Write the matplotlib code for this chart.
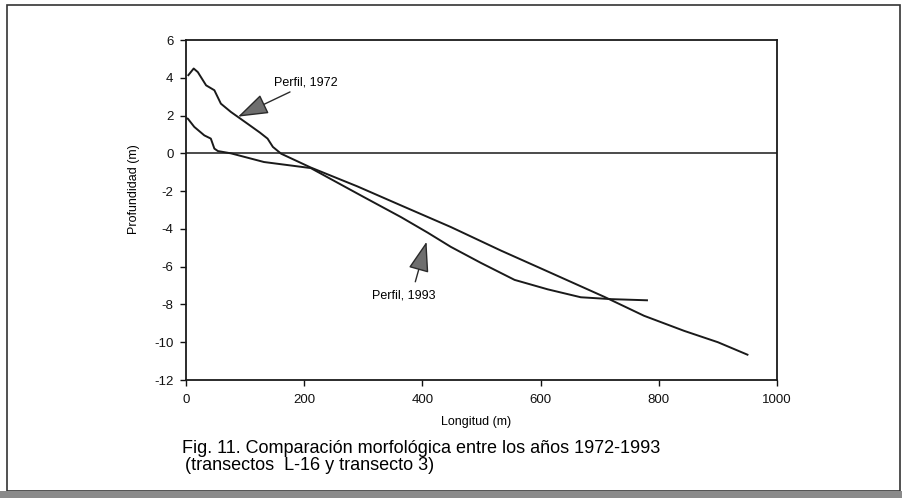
import matplotlib
matplotlib.use("Agg")
from matplotlib import pyplot as plt
from matplotlib.patches import Rectangle

plt.rcParams['font.family'] = ['Liberation Sans', 'DejaVu Sans']
plt.rcParams['axes.unicode_minus'] = False

# perfil 1972 (longitud m, profundidad m)
x_1972 = [4, 13, 20, 34, 48, 59, 76, 104, 125, 138, 147, 161, 211, 290, 364,
          448, 533, 601, 708, 775, 843, 900, 950]
y_1972 = [4.14, 4.49, 4.3, 3.6, 3.34, 2.63, 2.19, 1.57, 1.1, 0.78, 0.34, -0.02,
          -0.75, -1.75, -2.76, -3.9, -5.15, -6.1, -7.6, -8.6, -9.4, -10.0, -10.66]

# perfil 1993
x_1993 = [0, 3, 14, 31, 42, 48, 54, 76, 132, 211, 300, 364, 409, 448, 499,
          556, 612, 668, 720, 780]
y_1993 = [1.85, 1.84, 1.4, 0.95, 0.78, 0.25, 0.12, 0.0, -0.46, -0.78, -2.3,
          -3.38, -4.2, -4.95, -5.8, -6.7, -7.2, -7.62, -7.72, -7.78]

x_ticks = [0, 200, 400, 600, 800, 1000]
y_ticks = [6, 4, 2, 0, -2, -4, -6, -8, -10, -12]

W, H = 903, 498
fig = plt.figure(figsize=(W / 100, H / 100), dpi=100)
ax = fig.add_axes([186 / W, 1 - 380 / H, (777 - 186) / W, (380 - 40) / H])

line_c = '#1a1a1a'
ax.plot(x_1972, y_1972, color=line_c, lw=1.4)
ax.plot(x_1993, y_1993, color=line_c, lw=1.4)
ax.axhline(0, color=line_c, lw=1.1)

ax.set_xlim(0, 1000)
ax.set_ylim(-12, 6)
ax.set_xticks(x_ticks)
ax.set_yticks(y_ticks)
ax.tick_params(direction='out', length=4, width=1, labelsize=9.5, colors='#111')
ax.tick_params(axis='x', pad=6)
ax.tick_params(axis='y', pad=5)
for s in ax.spines.values():
    s.set_linewidth(1.3)
    s.set_color('#1a1a1a')

ax.set_xlabel('Longitud (m)', fontsize=9)
ax.set_ylabel('Profundidad (m)', fontsize=9)
ax.xaxis.set_label_coords(0.49, -0.105)
ax.yaxis.set_label_coords(-0.078, 0.56)

arrow = dict(arrowstyle='-|>,head_length=1.9,head_width=0.65', mutation_scale=10,
             fc='#6e6e6e', ec='#2a2a2a', lw=1.0, shrinkA=0, shrinkB=0)
ax.annotate('', xy=(88, 1.94), xytext=(176, 3.25), arrowprops=arrow)
ax.text(203, 3.77, 'Perfil, 1972', fontsize=9, ha='center', va='center')
ax.annotate('', xy=(407, -4.68), xytext=(388, -6.8), arrowprops=arrow)
ax.text(369, -7.5, 'Perfil, 1993', fontsize=9, ha='center', va='center')

fig.text(182 / W, 1 - 448 / H, 'Fig. 11. Comparación morfológica entre los años 1972-1993',
         fontsize=13, ha='left', va='center')
fig.text(185 / W, 1 - 465 / H, '(transectos  L-16 y transecto 3)',
         fontsize=13, ha='left', va='center')

# marco exterior y franja gris del escaneo
fig.add_artist(Rectangle((7 / W, 1 - 491 / H), (900 - 7) / W, (491 - 5) / H,
                         transform=fig.transFigure, fill=False, ec='#333', lw=1.2))
fig.add_artist(Rectangle((0, 0), 1, 7 / H, transform=fig.transFigure,
                         fc='#8a8a8a', ec='none'))

fig.savefig('out.png', dpi=100)
